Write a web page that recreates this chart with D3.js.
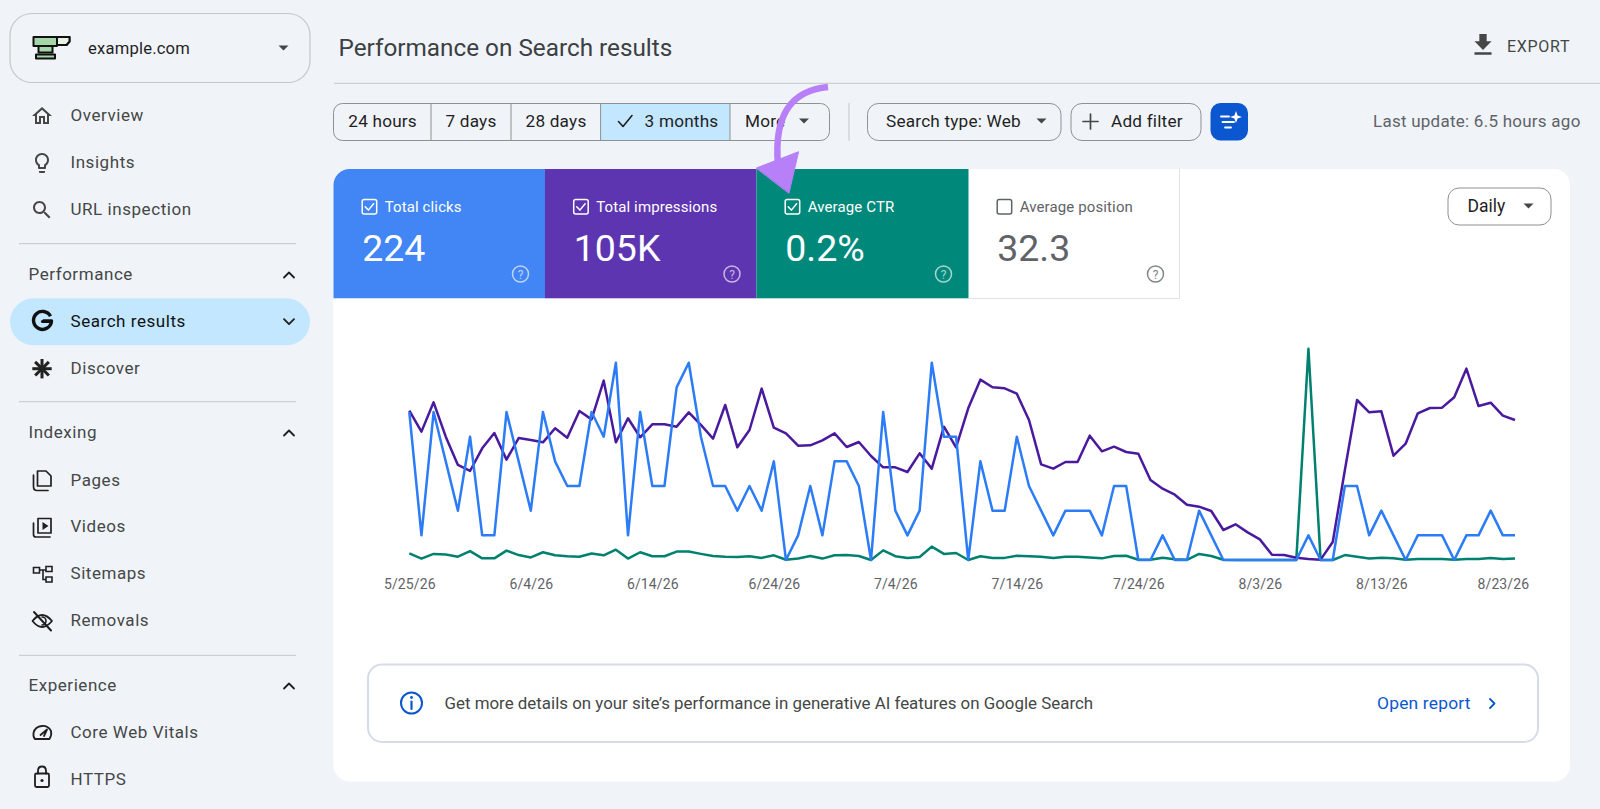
<!DOCTYPE html>
<html><head><meta charset="utf-8">
<script src="https://cdn.jsdelivr.net/npm/d3@7/dist/d3.min.js"></script>
<style>html,body{margin:0;padding:0;background:#f0f4f9;overflow:hidden}svg{display:block}text{font-family:Roboto,sans-serif}</style>
</head><body>
<svg id="c" width="1600" height="809"></svg>
<script>
// ---------- data ----------
const startDate = "2026-05-25";
const tickLabels = ["5/25/26","6/4/26","6/14/26","6/24/26","7/4/26","7/14/26","7/24/26","8/3/26","8/13/26","8/23/26"];
const clicks = [6,1,6,4,2,5,1,1,6,4,2,6,4,3,3,6,5,8,1,6,3,3,7,8,5,3,3,2,3,2,4,0,1,3,1,4,4,3,0,6,2,1,2,8,5,5,0,4,2,2,5,3,2,1,2,2,2,1,3,3,0,0,1,0,0,2,1,0,0,0,0,0,0,0,1,0,0,3,3,1,2,1,0,1,1,1,0,1,1,2,1,1];
const impressions = [1658,1425,1750,1369,1055,988,1240,1410,1114,1354,1332,1306,1462,1358,1654,1561,1991,1306,1573,1362,1506,1506,1480,1639,1499,1347,1721,1251,1443,1902,1469,1406,1269,1273,1328,1406,1254,1310,1154,1029,1029,977,1184,1014,1480,1251,1684,2002,1917,1906,1846,1554,1062,1014,1088,1088,1380,1206,1258,1199,1180,888,792,725,614,592,544,333,396,307,229,59,56,26,11,4,200,999,1776,1639,1650,1158,1291,1628,1687,1691,1806,2124,1709,1746,1602,1554];
const ctr = [.28,.06,.26,.23,.14,.38,.07,.07,.40,.21,.11,.33,.20,.16,.14,.28,.20,.44,.06,.33,.16,.16,.36,.36,.26,.17,.14,.13,.16,.09,.20,.01,.06,.17,.06,.20,.21,.17,0,.41,.16,.09,.13,.57,.26,.30,0,.16,.09,.09,.18,.16,.14,.09,.14,.14,.11,.07,.17,.18,.01,.01,.10,.03,.01,.26,.17,.01,0,0,0,0,0,0,9.0,0,0,.21,.14,.06,.10,.07,.01,.04,.04,.04,.01,.04,.04,.09,.04,.06];
const tileLabels = ["Total clicks","Total impressions","Average CTR","Average position"];
const tileValues = ["224","105K","0.2%","32.3"];
const rangeLabels = ["24 hours","7 days","28 days","3 months","More"];

// ---------- helpers ----------
const svg = d3.select("#c");
const INK="#1f1f1f", GREY="#444746", MUTED="#5f6368", LINE="#c4c7c5", BORDER="#8e918f";
function T(x,y,s,size,fill,anchor,extra){
  const t=svg.append("text").attr("x",x).attr("y",y).attr("dy","0.35em").attr("font-size",size).attr("fill",fill||INK).attr("text-anchor",anchor||"start").text(s);
  if(extra) for(const k in extra) t.attr(k,extra[k]);
  return t;
}
function R(x,y,w,h,r,fill,stroke,sw){return svg.append("rect").attr("x",x).attr("y",y).attr("width",w).attr("height",h).attr("rx",r).attr("fill",fill||"none").attr("stroke",stroke||"none").attr("stroke-width",sw||1);}
function L(x1,y1,x2,y2,c,w){return svg.append("line").attr("x1",x1).attr("y1",y1).attr("x2",x2).attr("y2",y2).attr("stroke",c).attr("stroke-width",w||1);}
function P(d,fill,stroke,sw){return svg.append("path").attr("d",d).attr("fill",fill||"none").attr("stroke",stroke||"none").attr("stroke-width",sw||0).attr("stroke-linejoin","round").attr("stroke-linecap","round");}
function tri(cx,cy,c){P(`M${cx-5},${cy-2.5}h10l-5,5z`,c||GREY);}
function chev(cx,cy,up){P(up?`M${cx-5},${cy+2.5}l5,-5l5,5`:`M${cx-5},${cy-2.5}l5,5l5,-5`,"none",INK,1.8);}
function icon(d,cx,cy,s,fill){P(d,fill||GREY).attr("transform",`translate(${cx-12*s},${cy-12*s}) scale(${s})`);}

// ---------- page ----------
R(0,0,1600,809,0,"#f0f4f9");
// property selector
R(10,13.5,300,69,22,"none",LINE,1.2);
P("M33.5,37H69.5V41.5L66.5,45H57V46H33.5Z","#a5d6a7","#111",2);
P("M57,37H69.5V41.5L66.5,45H57Z","#e8f3e6","#111",2);
P("M38.5,46H52.5V52.5H38.5Z","#a5d6a7","#111",2);
P("M36,54.5H55V58.5H36Z","#a5d6a7","#111",2);
T(88,48,"example.com",16.6,INK,"start",{"letter-spacing":".2"});
tri(283.5,48);
// nav
const navY={Overview:115,Insights:162.3,"URL inspection":209,"Search results":321,Discover:368,Pages:479.8,Videos:526.3,Sitemaps:573.3,Removals:620.3,"Core Web Vitals":732.3,HTTPS:779.3};
R(10,298.3,300,47,23.5,"#c2e7ff");
Object.keys(navY).forEach(k=>T(70.5,navY[k],k,17,k==="Search results"?"#111":GREY,"start",{"letter-spacing":".55"}));
const sec={Performance:274.5,Indexing:432.5,Experience:685.5};
Object.keys(sec).forEach(k=>{T(28.5,sec[k],k,17,GREY,"start",{"letter-spacing":".55"});chev(289,sec[k]+.5,true);});
chev(289,321.7,false);
[243.7,401.7,655.3].forEach(y=>L(19,y,296,y,LINE,1));
// icons
const home="M12 5.69l5 4.5V18h-2v-6H9v6H7v-7.81l5-4.5M12 3L2 12h3v8h6v-6h2v6h6v-8h3L12 3z";
const bulb="M9 21c0 .55.45 1 1 1h4c.55 0 1-.45 1-1v-1H9v1zm3-19C8.14 2 5 5.14 5 9c0 2.38 1.19 4.47 3 5.74V17c0 .55.45 1 1 1h6c.55 0 1-.45 1-1v-2.26c1.81-1.27 3-3.36 3-5.74 0-3.86-3.14-7-7-7zm2.85 11.1l-.85.6V16h-4v-2.3l-.85-.6C7.8 12.16 7 10.63 7 9c0-2.76 2.24-5 5-5s5 2.24 5 5c0 1.63-.8 3.16-2.15 4.1z";
const srch="M15.5 14h-.79l-.28-.27C15.41 12.59 16 11.11 16 9.5 16 5.91 13.09 3 9.5 3S3 5.91 3 9.5 5.91 16 9.5 16c1.61 0 3.09-.59 4.23-1.57l.27.28v.79l5 4.99L20.49 19l-4.99-5zm-6 0C7.01 14 5 11.99 5 9.5S7.01 5 9.5 5 14 7.01 14 9.5 11.99 14 9.5 14z";
icon(home,42,116,1,GREY); icon(bulb,42,163,1,GREY); icon(srch,42,210,1,GREY);
// G logo
P("M50.5,316.2A9,9 0 1 0 51.5,321H42.8V321","none","#111",3.4).attr("stroke-linecap","butt");
P("M42.5,321.5H51","none","#111",3.2);
// discover star
[0,45,90,135].forEach(a=>P(`M42,359V378.4`,"none","#222",3).attr("stroke-linecap","butt").attr("transform",`rotate(${a} 42 368.7)`));
// pages
P("M33.5,475V486.5Q33.5,490.5 37,490.5H48M37.5,471H46L51,476V486H37.5Z","none",INK,1.7);
// videos
P("M33.5,523V534.5Q33.5,537 36,537H50M38,518.5H51V533H38Z","none",INK,1.7); P("M42.5,522L48.5,526L42.5,530Z",INK);
// sitemaps
P("M33.5,567.5H39.5V573H33.5ZM46,566.5H52V571.5H46ZM46,577H52V582H46ZM39.5,570H46M43,570V579.5H46","none",INK,1.6).attr("stroke-linejoin","miter");
// removals
P("M32.5,621Q42,609 52,621Q42,633 32.5,621Z","none",INK,1.8); P("M34,612L51,630.5","none",INK,2); P("M42,617A4,4 0 0 1 42,625","none",INK,1.6);
// gauge
P("M35,739H49.5Q52,735 51,731Q48,725.5 42,726Q35,726.5 33.5,733Q33,737 35,739ZM40.5,735L47,729.5L44,736","none",INK,1.8);
// lock
R(35,773.5,14,13.5,1.5,"none",INK,1.8); P("M38,773.5V771Q38,766.5 42,766.5Q46,766.5 46,771V773.5","none",INK,1.8); svg.append("circle").attr("cx",42).attr("cy",780.5).attr("r",1.6).attr("fill",INK);

// header
T(338.5,47.3,"Performance on Search results",24.3,"#3c4043");
L(334,83.3,1600,83.3,LINE,1);
icon("M19 9h-4V3H9v6H5l7 7 7-7zM5 18v2h14v-2H5z",1483,45,1.22,GREY);
T(1507,46,"EXPORT",16,GREY,"start",{"letter-spacing":".7"});

// range segmented control
R(333.5,103.5,496,37,9,"none",BORDER,1);
svg.append("path").attr("d","M600.6,104H730V140H600.6Z").attr("fill","#c2e7ff");
[431,511,600.6,730].forEach(x=>L(x,103.5,x,140.5,BORDER,1));
[[382.6,"middle"],[471,"middle"],[556,"middle"],[681.5,"middle"],[745,"start"]].forEach((p,i)=>T(p[0],121,rangeLabels[i],17.2,INK,p[1],{"letter-spacing":".2"}));
P("M618.5,121.5L623,126.5L632,115.5","none",INK,1.6);
tri(804,121);
L(849,103,849,141,LINE,1);
R(867.5,103.5,193.5,37,11,"none",BORDER,1);
T(886,121,"Search type: Web",17.2,INK,"start",{"letter-spacing":".2"});
tri(1041.5,121);
R(1071,103.5,130,37,11,"none",BORDER,1);
P("M1090.5,114V129M1083,121.5H1098","none",GREY,1.7);
T(1111,121,"Add filter",17.2,INK,"start",{"letter-spacing":".2"});
R(1210.5,103,37.5,37.5,10,"#0b57d0");
P("M1221,116.5H1229M1222.5,122H1234M1225,127.5H1231","none","#fff",1.8);
P("M1236,111L1237.6,115.4L1242,117L1237.6,118.6L1236,123L1234.4,118.6L1230,117L1234.4,115.4Z","#fff");
T(1373,121.5,"Last update: 6.5 hours ago",17,MUTED,"start",{"letter-spacing":".25"});

// card
R(333.5,169,1236.5,612.5,16,"#fff");
// tiles
const tiles=[{x:333.5,w:211.5,f:"#4285f4"},{x:545,w:211.5,f:"#5e35b1"},{x:756.5,w:212,f:"#00897b"},{x:968.5,w:211,f:"#fff"}];
P(`M${tiles[0].x},298.3V185A16,16 0 0 1 ${tiles[0].x+16},169H${tiles[0].x+tiles[0].w}V298.3Z`,tiles[0].f);
R(tiles[1].x,169,tiles[1].w,129.3,0,tiles[1].f);
R(tiles[2].x,169,tiles[2].w,129.3,0,tiles[2].f);
P("M1179.5,169V298.5H968.5","none","#e3e3e3",1);
tiles.forEach((t,i)=>{
  const on=i<3, c=on?"#fff":MUTED, bx=t.x+28.7;
  R(bx,199.5,14.5,14.5,2,"none",c,1.5);
  if(on) P(`M${bx+3},${206.7}l3.2,3.4l5.2,-6.4`,"none",c,1.5);
  T(bx+22.5,206.3,tileLabels[i],15,c,"start",{"letter-spacing":".12"});
  T(bx,248,tileValues[i],37.5,c,"start",{"font-weight":400});
  const qx=t.x+187, o=on?0.65:1, qc=on?"#fff":"#80868b";
  svg.append("circle").attr("cx",qx).attr("cy",274).attr("r",8).attr("fill","none").attr("stroke",qc).attr("stroke-opacity",o).attr("stroke-width",1.5);
  T(qx,274.3,"?",12,qc,"middle",{"fill-opacity":o});
});
R(1448,188,103,37,11,"#fff",BORDER,1);
T(1467.5,206,"Daily",17.5,INK);
tri(1528.5,206);

// ---------- chart ----------
const parse=d3.utcParse("%Y-%m-%d");
const day0=parse(startDate);
const dates=clicks.map((_,i)=>d3.utcDay.offset(day0,i));
const x=d3.scaleUtc().domain([dates[0],dates[dates.length-1]]).range([409.3,1515]);
const BASE=560;
const yClicks=d3.scaleLinear().domain([0,8]).range([BASE,362.7]);
const yImpr=d3.scaleLinear().domain([0,2200]).range([BASE,361.8]);
const yCtr=d3.scaleLinear().domain([0,9]).range([BASE,348.7]);
const tickDates=tickLabels.map((_,i)=>dates[i*10]);
const axis=d3.axisBottom(x).tickValues(tickDates).tickFormat((d,i)=>tickLabels[i]).tickSize(0).tickPadding(0);
const ga=svg.append("g").attr("transform","translate(0,579)").call(axis);
ga.select(".domain").remove();
ga.selectAll("text").attr("font-size",14).attr("fill",MUTED).attr("dy","0.71em").style("font-family","Roboto,sans-serif").attr("letter-spacing",".1");
function draw(vals,y,color){
  const line=d3.line().x((d,i)=>x(dates[i])).y(d=>y(d));
  svg.append("path").datum(vals).attr("d",line).attr("fill","none").attr("stroke",color).attr("stroke-width",2.5).attr("stroke-linejoin","round");
}
draw(ctr,yCtr,"#00806e");
draw(impressions,yImpr,"#4a1a9e");
draw(clicks,yClicks,"#2b7cf6");

// info banner
R(368,664.5,1170,77.5,14,"#fff","#d5dce8",2);
svg.append("circle").attr("cx",411.5).attr("cy",703).attr("r",10.5).attr("fill","none").attr("stroke","#0b57d0").attr("stroke-width",2);
P("M411.5,701.5V709","none","#0b57d0",2.2);
svg.append("circle").attr("cx",411.5).attr("cy",697.5).attr("r",1.4).attr("fill","#0b57d0");
T(444.5,703,"Get more details on your site\u2019s performance in generative AI features on Google Search",16.9,GREY);
T(1377,703,"Open report",17.4,"#0b57d0","start",{"letter-spacing":".2"});
P("M1490,699L1494.5,703.5L1490,708","none","#0b57d0",1.8);

// annotation arrow
P("M828,87C797,90 773,108 778,165","none","#b77ff8",6.5).attr("stroke-linecap","butt");
P("M756.5,168L798.6,151.7L789,193Z","#b77ff8","#b77ff8",1);
</script>
</body></html>
